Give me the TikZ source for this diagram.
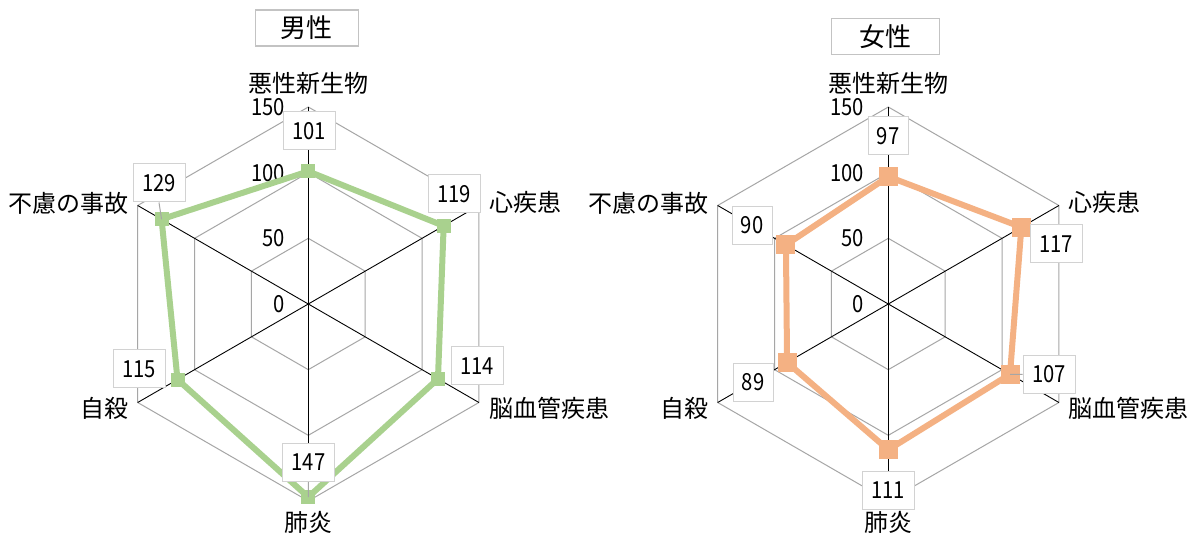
\documentclass[tikz,border=0pt]{standalone}
\usepackage{fontspec}
\newfontfamily\jp{Noto Sans CJK JP}
\newfontfamily\jpnum[FakeStretch=0.86]{Noto Sans CJK JP}
\definecolor{gridgray}{RGB}{166,166,166}
\definecolor{boxgray}{RGB}{210,210,210}
\definecolor{titlegray}{RGB}{195,195,195}
\definecolor{mgreen}{RGB}{169,209,142}
\definecolor{morange}{RGB}{244,177,131}
\begin{document}
\begin{tikzpicture}[x=1pt,y=-1pt,
  gridl/.style={draw=gridgray,line width=1pt},
  axisl/.style={draw=black,line width=0.9pt},
  catlab/.style={font=\jp\fontsize{24}{28}\selectfont,inner sep=0pt},
  ticklab/.style={font=\jpnum\fontsize{23.5}{27}\selectfont,inner sep=0pt,anchor=east},
  valbox/.style={draw=boxgray,fill=white,line width=1pt,font=\jpnum\fontsize{23.5}{27}\selectfont,inner sep=0pt,minimum height=38pt,minimum width=52pt},
  valboxs/.style={valbox,minimum width=40pt},
  titlebox/.style={draw=titlegray,line width=1.2pt,fill=white,font=\jp\fontsize{26}{30}\selectfont,inner sep=0pt,minimum height=36pt},
  mline/.style={line width=6pt,line join=round},
  gmark/.style={rectangle,fill=mgreen,minimum size=14pt,inner sep=0pt},
  omark/.style={rectangle,fill=morange,minimum size=19pt,inner sep=0pt},
  leader/.style={draw=gridgray,line width=1pt}]
\useasboundingbox (0,0) rectangle (1187,537);
\fill[white] (0,0) rectangle (1187,537);

% ---------------- left chart (male) ----------------
\begin{scope}[shift={(308.3,304)}]
  \foreach \r in {65.667,131.333,197}{
    \draw[gridl] (90:\r pt) -- (30:\r pt) -- (-30:\r pt) -- (-90:\r pt) -- (-150:\r pt) -- (150:\r pt) -- cycle;}
  \foreach \a in {90,30,-30,-90,-150,150}{\draw[axisl] (0,0) -- (\a:197pt);}
  \node[ticklab] (lt150) at (-23,-197) {150};
  \node[ticklab] (lt100) at (-23,-131.333) {100};
  \node[ticklab] (lt50) at (-23,-65.667) {50};
  \node[ticklab] (lt0) at (-23,0) {0};
  \coordinate (m1) at (90:132.65pt);
  \coordinate (m2) at (30:156.29pt);
  \coordinate (m3) at (-30:149.72pt);
  \coordinate (m4) at (-90:193.06pt);
  \coordinate (m5) at (-150:151.03pt);
  \coordinate (m6) at (150:169.42pt);
  \draw[mgreen,mline] (m1) -- (m2) -- (m3) -- (m4) -- (m5) -- (m6) -- cycle;
  \foreach \i in {1,...,6}{\node[gmark] (mk\i) at (m\i) {};}
\end{scope}
\node[valbox] (v1) at (309,131) {101};
\node[valbox] (v2) at (454,194) {119};
\node[valbox] (v3) at (477,366) {114};
\node[valbox] (v4) at (308.5,462.5) {147};
\node[valbox] (v5) at (139,369) {115};
\node[valbox] (v6) at (159,183) {129};
\draw[leader] (v6.south) -- (m6);
\draw[leader] (v4.south) -- (m4);
\node[catlab] (lc1) at (308.3,83) {悪性新生物};
\node[catlab,anchor=west] (lc2) at (489,202) {心疾患};
\node[catlab,anchor=west] (lc3) at (489,408) {脳血管疾患};
\node[catlab] (lc4) at (308.3,522) {肺炎};
\node[catlab,anchor=east] (lc5) at (128.5,408) {自殺};
\node[catlab,anchor=east] (lc6) at (128.5,203) {不慮の事故};
\node[titlebox,minimum width=103pt] (t1) at (306.7,28) {男性};

% ---------------- right chart (female) ----------------
\begin{scope}[shift={(888.3,304)}]
  \foreach \r in {65.667,131.333,197}{
    \draw[gridl] (90:\r pt) -- (30:\r pt) -- (-30:\r pt) -- (-90:\r pt) -- (-150:\r pt) -- (150:\r pt) -- cycle;}
  \foreach \a in {90,30,-30,-90,-150,150}{\draw[axisl] (0,0) -- (\a:197pt);}
  \node[ticklab] (rt150) at (-24,-197) {150};
  \node[ticklab] (rt100) at (-24,-131.333) {100};
  \node[ticklab] (rt50) at (-24,-65.667) {50};
  \node[ticklab] (rt0) at (-24,0) {0};
  \coordinate (f1) at (90:127.39pt);
  \coordinate (f2) at (30:153.66pt);
  \coordinate (f3) at (-30:140.53pt);
  \coordinate (f4) at (-90:145.78pt);
  \coordinate (f5) at (-150:116.89pt);
  \coordinate (f6) at (150:118.2pt);
  \draw[morange,mline] (f1) -- (f2) -- (f3) -- (f4) -- (f5) -- (f6) -- cycle;
  \foreach \i in {1,...,6}{\node[omark] (fk\i) at (f\i) {};}
\end{scope}
\node[valboxs] (w1) at (888,136) {97};
\node[valbox] (w2) at (1056,244) {117};
\node[valbox] (w3) at (1049,374.5) {107};
\node[valbox] (w4) at (888,490) {111};
\node[valboxs] (w5) at (753,382.5) {89};
\node[valboxs] (w6) at (752,225.5) {90};
\draw[leader] (w3.west) -- (f3);
\node[catlab] (rc1) at (888.3,83) {悪性新生物};
\node[catlab,anchor=west] (rc2) at (1068,202) {心疾患};
\node[catlab,anchor=west] (rc3) at (1068,408) {脳血管疾患};
\node[catlab] (rc4) at (888.3,522) {肺炎};
\node[catlab,anchor=east] (rc5) at (709,408) {自殺};
\node[catlab,anchor=east] (rc6) at (709,203) {不慮の事故};
\node[titlebox,minimum width=108pt] (t2) at (885.8,36.2) {女性};
\end{tikzpicture}
\end{document}
